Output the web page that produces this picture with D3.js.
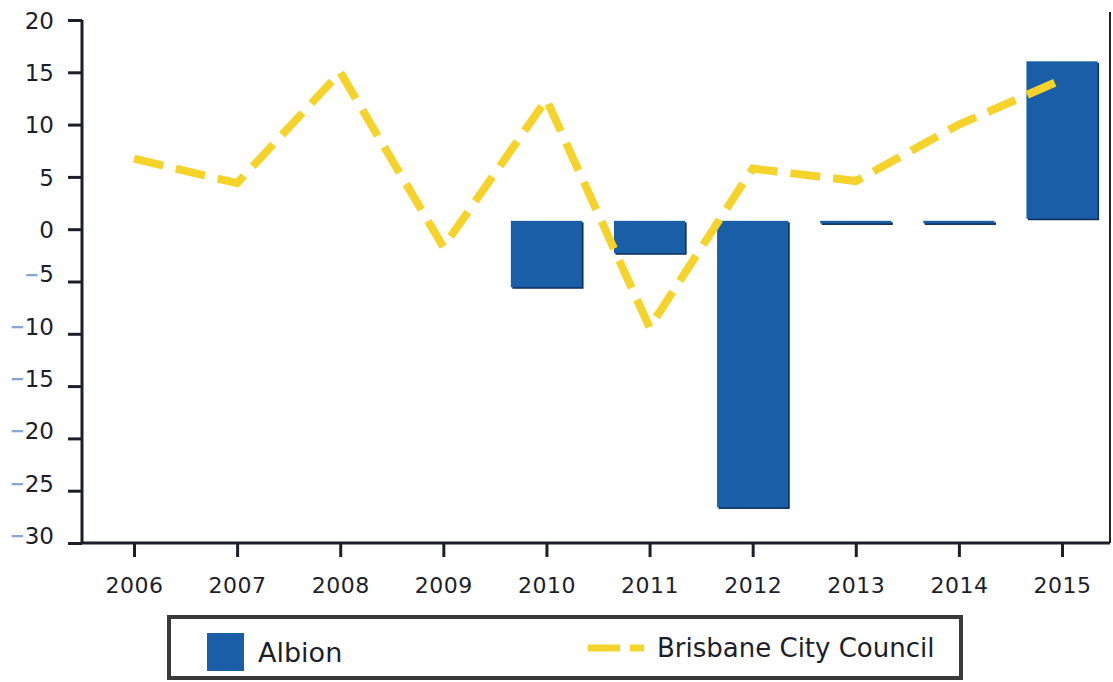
<!DOCTYPE html>
<html>
<head>
<meta charset="utf-8">
<script src="https://cdn.jsdelivr.net/npm/d3@7"></script>
<style>
  html, body { margin: 0; padding: 0; background: #fff; }
  svg { display: block; }
  text { font-family: "DejaVu Sans", Verdana, sans-serif; }
</style>
</head>
<body>
<svg id="chart" width="1113" height="682"></svg>
<script>
// ---- data ----
const categories = ["2006", "2007", "2008", "2009", "2010", "2011", "2012", "2013", "2014", "2015"];
// Albion bars are drawn as ranges (start value -> end value), as in the picture
const albionFrom = [null, null, null, null, 0.8, 0.8, 0.8, 0.8, 0.8, 1.0];
const albionTo   = [null, null, null, null, -5.55, -2.3, -26.6, 0.55, 0.55, 16.05];
const brisbane   = [6.75, 4.4, 15.0, -1.7, 12.4, -9.4, 5.8, 4.6, 10.0, 14.3];
const yTicks = [-30, -25, -20, -15, -10, -5, 0, 5, 10, 15, 20];
const seriesNames = ["Albion", "Brisbane City Council"];

// ---- layout ----
const svg = d3.select("#chart");
const pLeft = 82, pRight = 1110, pTop = 20, pBottom = 543;
const barColor = "#1b5ea8", barShadow = "#0c2f5c", lineColor = "#f6d32a", ink = "#1c1e2a";

const x = d3.scalePoint().domain(categories).range([134, 1062]);
const y = d3.scaleLinear().domain([-30, 20]).range([pBottom, pTop]);
const bw = x.step() * 0.69;

// right frame line
svg.append("line")
  .attr("x1", pRight).attr("x2", pRight).attr("y1", 12).attr("y2", pBottom)
  .attr("stroke", "#222").attr("stroke-width", 2);

// bars
const bars = categories.map((c, i) => ({c, a: albionFrom[i], b: albionTo[i]})).filter(d => d.a !== null);
const gb = svg.append("g");
gb.selectAll("rect.sh").data(bars).join("rect").attr("class", "sh")
  .attr("x", d => x(d.c) - bw / 2 + 1.5)
  .attr("y", d => y(Math.max(d.a, d.b)) + 1.5)
  .attr("width", bw)
  .attr("height", d => Math.max(2, Math.abs(y(d.a) - y(d.b))))
  .attr("fill", barShadow);
gb.selectAll("rect.bar").data(bars).join("rect").attr("class", "bar")
  .attr("x", d => x(d.c) - bw / 2)
  .attr("y", d => y(Math.max(d.a, d.b)))
  .attr("width", bw)
  .attr("height", d => Math.max(2, Math.abs(y(d.a) - y(d.b))))
  .attr("fill", barColor);

// line
const line = d3.line().x((d, i) => x(categories[i])).y(d => y(d));
svg.append("path").datum(brisbane)
  .attr("d", line)
  .attr("fill", "none")
  .attr("stroke", lineColor)
  .attr("stroke-width", 8)
  .attr("stroke-dasharray", "30,13")
  .attr("stroke-linejoin", "miter");

// y axis
const gy = svg.append("g").attr("transform", `translate(${pLeft},0)`)
  .call(d3.axisLeft(y).tickValues(yTicks).tickSize(14).tickSizeOuter(0).tickPadding(14));
gy.select(".domain").attr("stroke", ink).attr("stroke-width", 3).attr("d", `M0,${pTop}V${pBottom}`);
gy.selectAll(".tick line").attr("stroke", ink).attr("stroke-width", 3);
gy.selectAll(".tick text").each(function(d) {
  const t = d3.select(this);
  t.text(null).attr("font-size", 23).attr("fill", ink).attr("dy", "0.36em");
  if (d < 0) {
    t.append("tspan").attr("fill", "#86a6da").attr("font-size", 18).attr("font-weight", "bold")
      .attr("dy", "-0.08em").text("−");
    t.append("tspan").attr("dy", "0.08em").text(String(Math.abs(d)));
  } else {
    t.text(String(d));
  }
});

// x axis
const gx = svg.append("g").attr("transform", `translate(0,${pBottom})`)
  .call(d3.axisBottom(x).tickSize(14).tickSizeOuter(0).tickPadding(14));
gx.select(".domain").attr("stroke", ink).attr("stroke-width", 3).attr("d", `M${pLeft},0H${pRight}`);
gx.selectAll(".tick line").attr("stroke", ink).attr("stroke-width", 3);
gx.selectAll(".tick text").attr("font-size", 22).attr("fill", ink).attr("letter-spacing", 0.5).attr("dy", "1.0em");
svg.selectAll(".tick text").attr("font-family", "DejaVu Sans, Verdana, sans-serif");

// legend
const lg = svg.append("g");
lg.append("rect").attr("x", 169).attr("y", 617).attr("width", 792).attr("height", 61)
  .attr("fill", "#fff").attr("stroke", "#3a3a3a").attr("stroke-width", 4);
lg.append("rect").attr("x", 207).attr("y", 633).attr("width", 37).attr("height", 38).attr("fill", barColor);
lg.append("text").attr("x", 258).attr("y", 662).attr("font-size", 27).attr("fill", ink).text(seriesNames[0]);
lg.append("line").attr("x1", 588).attr("x2", 644).attr("y1", 648).attr("y2", 648)
  .attr("stroke", lineColor).attr("stroke-width", 7).attr("stroke-dasharray", "32,10");
lg.append("text").attr("x", 657).attr("y", 657).attr("font-size", 26).attr("fill", ink).text(seriesNames[1]);
</script>
</body>
</html>
